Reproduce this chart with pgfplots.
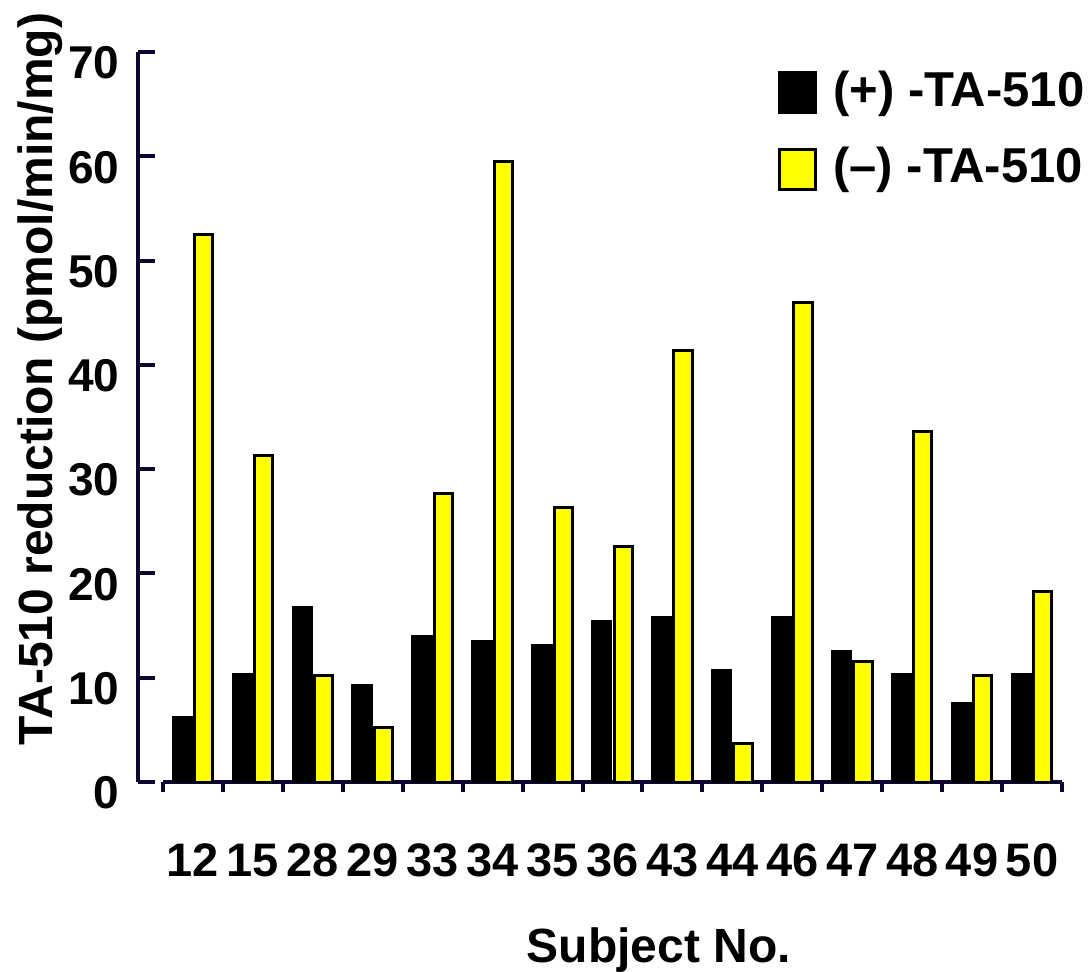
\documentclass[border=0pt]{standalone}
\usepackage{fontspec}
\setmainfont{Liberation Sans}
\usepackage{pgfplots}
\pgfplotsset{compat=1.18}
\definecolor{axiscol}{RGB}{10,8,50}
\definecolor{baryellow}{RGB}{255,255,0}

\begin{document}
\begin{tikzpicture}
\begin{axis}[
    at={(0pt,0pt)}, anchor=south west,
    scale only axis,
    width=449.5pt, height=365pt,
    ybar, bar width=0.305,
    xmin=-0.5, xmax=14.5,
    ymin=0, ymax=70,
    axis x line*=bottom,
    axis y line*=left,
    axis y line shift=12.5pt,
    axis line style={line width=2pt, axiscol},
    xtick={0,...,14},
    xticklabels={12,15,28,29,33,34,35,36,43,44,46,47,48,49,50},
    minor xtick={-0.5,0.5,...,14.5},
    ytick={0,10,...,70},
    tick align=center,
    major tick length=8.5pt,
    minor tick length=5pt,
    every tick/.style={axiscol, line width=2pt},
    every major x tick/.append style={draw=none},
    every minor x tick/.append style={yshift=-2.5pt},
    every major y tick/.append style={xshift=4.25pt},
    /pgf/number format/assume math mode=true,
    xticklabel style={font=\fontsize{23.5}{27}\selectfont\bfseries, anchor=center, inner sep=0pt, yshift=-35pt},
    yticklabel style={font=\fontsize{23}{26}\selectfont\bfseries, anchor=east, inner sep=0pt, xshift=-4.8pt, yshift=-5.5pt},
    xlabel={Subject No.},
    ylabel={TA-510 reduction (pmol/min/mg)},
    every axis x label/.style={at={(rel axis cs:0.5515,-0.230)}, anchor=center, font=\fontsize{24}{28}\selectfont\bfseries},
    every axis y label/.style={at={(rel axis cs:-0.1368,0.552)}, anchor=center, rotate=90, font=\fontsize{24}{28}\selectfont\bfseries},
    legend cell align=left,
    legend image code/.code={\draw[#1, line width=1.5pt] (0.75pt,-11.4pt) rectangle (18.75pt,8.6pt);
        \path[draw=none, fill=none] (0pt,0pt) rectangle (22.5pt,0pt);},
    legend style={draw=none, fill=none, at={(rel axis cs:0.684,0.975)}, anchor=north west,
        inner sep=0pt, row sep=16.5pt, column sep=5pt,
        font=\fontsize{24.5}{28}\selectfont\bfseries,
        nodes={inner sep=0pt}},
]
\addplot[fill=black, draw=black, line width=1.5pt, bar shift=-0.178] coordinates {
    (0,6.2) (1,10.3) (2,16.7) (3,9.3) (4,13.95) (5,13.5) (6,13.05) (7,15.35)
    (8,15.8) (9,10.7) (10,15.8) (11,12.55) (12,10.3) (13,7.5) (14,10.3)
};
\addplot[fill=baryellow, draw=black, line width=1.5pt, bar shift=0.178] coordinates {
    (0,52.5) (1,31.35) (2,10.2) (3,5.2) (4,27.7) (5,59.5) (6,26.3) (7,22.55)
    (8,41.4) (9,3.7) (10,46.0) (11,11.55) (12,33.6) (13,10.2) (14,18.3)
};
\legend{(+) -TA-510, (\textendash) -TA-510}
\end{axis}
\pgfresetboundingbox
\useasboundingbox (-81.5pt,-94.5pt) rectangle (464pt,391pt);
\end{tikzpicture}
\end{document}
